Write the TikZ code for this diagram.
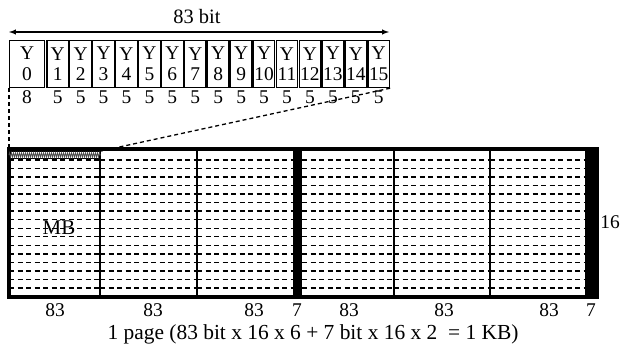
\documentclass[tikz,border=0pt]{standalone}
\usepackage{fontspec}
\setmainfont{Liberation Serif}
\usetikzlibrary{arrows,decorations.pathmorphing}

\tikzset{
  ycell/.style={draw,line width=1.2bp,anchor=north west,inner sep=0pt,minimum height=47bp,align=center,font=\fontsize{19.5}{21}\selectfont},
  lbl/.style={inner sep=0pt,font=\fontsize{19.5}{19.5}\selectfont},
  rowline/.style={dashed,dash pattern=on 5bp off 3.5bp,line width=1.4bp},
  colline/.style={line width=1.6bp},
  zoomline/.style={dashed,dash pattern=on 4bp off 3bp,line width=1.3bp},
}

\begin{document}
\begin{tikzpicture}[x=1bp,y=-1bp]
\useasboundingbox (0,0) rectangle (621,360);
% one 83 bit word of luma samples
\node[lbl,font=\fontsize{20.5}{20.5}\selectfont] (title) at (197,17) {83 bit};
\coordinate (wl) at (9,32);
\coordinate (wr) at (389,32);
\draw[latex-latex,line width=1.4bp] (wl) -- (wr);
\node[ycell,minimum width=35bp] (y0) at (9,40) {Y\\0};
\node[lbl] (n0) at (27,97) {8};
\foreach \k in {1,...,15}{
  \pgfmathsetmacro{\xl}{45+(\k-1)*22.93+1.3}
  \node[ycell,minimum width=21.6bp] (y\k) at (\xl,40) {Y\\\k};
  \node[lbl] (n\k) at (y\k |- n0) {5};
}

% the page: six 83 bit columns and two 7 bit bars
\coordinate (blknw) at (9,149);
\coordinate (blkse) at (597,297);
\fill (293,149) rectangle (302,297);
\fill (585,149) rectangle (597,297);
\foreach \xa/\xb in {9/100,100/197,197/293,302/394,394/490,490/585}
  \foreach \k in {0,...,15}
    \draw[rowline] (\xa,160+\k*8.53) -- (\xb,160+\k*8.53);
\foreach \xc in {100,197,394,490}
  \draw[colline] (\xc,149) -- (\xc,297);
\draw[line width=3.5bp] (blknw) rectangle (blkse);
\node[draw,line width=0.9bp,anchor=north west,minimum width=91bp,minimum height=7bp,inner sep=0pt] (strip) at (9,151) {};
\draw[decorate,decoration={zigzag,amplitude=2.2bp,segment length=2bp},line width=0.7bp,black!70] (strip.west) -- (strip.east);
\node[lbl,font=\fontsize{21}{21}\selectfont] (mb) at (59,228) {MB};

% zoom lines
\draw[zoomline] (y0.south west) -- (strip.north west);
\draw[zoomline] (y15.south east) -- (strip.north east);

% widths
\foreach \xp/\t [count=\i] in {55/83,153/83,254/83,297/7,349/83,444/83,549/83,591/7}
  \node[lbl] (w\i) at (\xp,310) {\t};
\node[lbl] (rows) at (610,222) {16};
\node[lbl,font=\fontsize{21.5}{21.5}\selectfont] (caption) at (313,334) {1 page (83 bit x 16 x 6 + 7 bit x 16 x 2~ = 1 KB)};
\end{tikzpicture}
\end{document}
